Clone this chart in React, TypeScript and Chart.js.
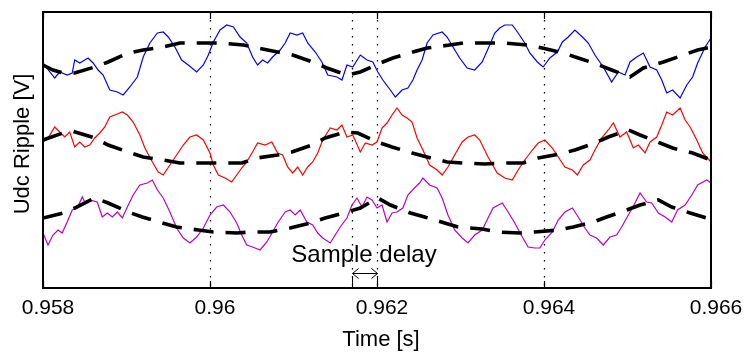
import React, { useEffect, useRef } from "react";
import { Chart, registerables } from "chart.js";

Chart.register(...registerables);

// ---- Data (time in seconds, ripple in arbitrary units) ----
const timeTicks = [0.958, 0.96, 0.962, 0.964, 0.966];
const markerTimes = [0.96, 0.9617, 0.962, 0.964];
const delayStart = 0.9617;
const delayEnd = 0.962;

const blueT = [0.958,0.95814,0.9582,0.95829,0.95835,0.95838,0.95844,0.95854,0.9586,0.95866,0.95872,0.9588,0.95889,0.95896,0.95904,0.95913,0.9592,0.95928,0.95937,0.95944,0.9595,0.95958,0.95966,0.95974,0.95984,0.95992,0.95998,0.96004,0.96012,0.9602,0.96028,0.96036,0.96044,0.96051,0.96057,0.96063,0.96069,0.96075,0.96084,0.9609,0.96096,0.96104,0.96111,0.96117,0.96126,0.96134,0.96141,0.96152,0.96158,0.96164,0.96171,0.9618,0.96188,0.96195,0.96201,0.96207,0.96216,0.96222,0.9623,0.96237,0.96243,0.96248,0.96254,0.9626,0.96267,0.96278,0.96284,0.96291,0.96299,0.96308,0.96317,0.96326,0.96335,0.96341,0.96347,0.96353,0.96362,0.96369,0.96377,0.96383,0.96392,0.96399,0.96407,0.96416,0.96422,0.96429,0.96437,0.96446,0.96453,0.96461,0.96471,0.96481,0.96489,0.96497,0.96503,0.96511,0.96519,0.96527,0.96535,0.96541,0.96547,0.96554,0.96563,0.96571,0.96578,0.96584,0.96593,0.966];
const blueV = [225,210,216,213,215,228,225,230,225,218,213,198,196,193,201,211,231,245,255,256,251,241,228,223,216,223,233,246,258,263,261,251,245,231,223,228,225,231,238,245,255,253,255,245,236,226,213,211,208,223,221,233,228,226,216,208,198,191,198,200,208,218,228,245,253,256,251,241,230,220,218,226,243,255,260,263,263,255,245,235,226,221,230,236,246,251,258,251,245,233,221,206,216,213,226,231,235,221,218,208,195,198,190,203,211,225,241,250];

const redT = [0.958,0.95806,0.95814,0.9582,0.95826,0.95832,0.95838,0.95844,0.9585,0.95856,0.95862,0.95868,0.95874,0.9588,0.95886,0.95895,0.95901,0.95908,0.95916,0.95922,0.95931,0.95938,0.95944,0.95952,0.9596,0.95968,0.95976,0.95984,0.95992,0.96,0.96004,0.9601,0.96018,0.96026,0.96032,0.96038,0.96044,0.96051,0.96057,0.96066,0.96074,0.96081,0.96087,0.96093,0.96099,0.96105,0.96111,0.96117,0.96123,0.96129,0.96135,0.96144,0.96152,0.96158,0.96164,0.96171,0.9618,0.96186,0.96194,0.962,0.96206,0.96212,0.96218,0.96224,0.9623,0.96236,0.96242,0.96248,0.96255,0.96263,0.96272,0.96278,0.96285,0.96293,0.96302,0.96309,0.96317,0.96323,0.96333,0.96344,0.96353,0.96362,0.96369,0.96377,0.96386,0.96393,0.96401,0.9641,0.96417,0.96425,0.96434,0.9644,0.96447,0.96455,0.96461,0.96469,0.96477,0.96483,0.96491,0.96499,0.96507,0.96513,0.96521,0.96527,0.96535,0.96541,0.96547,0.96554,0.96563,0.96569,0.96575,0.96583,0.9659,0.966];
const redV = [146,150,161,156,151,156,141,146,141,143,150,155,161,171,173,176,173,166,153,140,126,116,113,123,133,143,151,153,148,135,123,113,110,106,113,120,126,136,145,143,146,135,133,121,115,121,113,121,126,135,148,160,158,163,151,153,136,145,143,146,160,165,173,180,173,170,166,150,138,123,118,113,121,133,146,151,153,148,131,115,110,108,118,128,138,145,148,140,131,121,118,113,123,128,138,150,158,165,151,156,140,143,135,146,151,163,176,173,180,168,161,148,135,126];

const magT = [0.958,0.95806,0.95812,0.95818,0.95823,0.95829,0.95835,0.95841,0.95847,0.9585,0.95856,0.95865,0.95871,0.95877,0.95883,0.95889,0.95895,0.95901,0.95908,0.95916,0.95925,0.95931,0.95937,0.95944,0.95952,0.9596,0.95968,0.95976,0.95984,0.95992,0.96,0.96008,0.96016,0.96024,0.96032,0.96038,0.96044,0.96051,0.9606,0.96068,0.96075,0.96081,0.9609,0.96096,0.96102,0.96108,0.96116,0.96123,0.96129,0.96135,0.96144,0.9615,0.96156,0.96164,0.9617,0.96176,0.96182,0.96188,0.96194,0.962,0.96206,0.96212,0.96218,0.96224,0.96231,0.96237,0.96246,0.96251,0.96255,0.96263,0.96272,0.96278,0.96285,0.96293,0.96302,0.96309,0.96317,0.96326,0.96333,0.96339,0.9635,0.96357,0.96365,0.96374,0.96381,0.96389,0.96395,0.96401,0.9641,0.96417,0.96425,0.96434,0.96441,0.96449,0.96455,0.96463,0.96471,0.96479,0.96487,0.96493,0.96501,0.96509,0.96515,0.96523,0.96529,0.96537,0.96545,0.96553,0.9656,0.96569,0.96577,0.96584,0.96595,0.966];
const magV = [55,43,53,58,55,66,78,80,91,86,88,86,71,75,71,76,70,81,93,103,105,108,98,90,76,60,50,45,51,60,73,81,83,76,65,53,43,41,38,46,56,65,76,78,73,78,66,63,55,50,45,53,61,70,83,90,81,91,88,80,83,66,75,76,80,93,101,105,110,103,100,90,73,58,50,45,53,58,70,80,85,76,65,51,41,40,40,48,56,68,76,80,71,60,53,50,43,51,53,61,73,85,95,86,85,75,71,66,78,83,93,103,108,105];

const blueRefT = [0.958,0.95812,0.95824,0.95838,0.95862,0.95878,0.95902,0.9592,0.95944,0.95964,0.95992,0.9601,0.9604,0.96057,0.96081,0.96099,0.96123,0.9614,0.96164,0.9618,0.96204,0.96219,0.96243,0.9626,0.96287,0.96303,0.96335,0.96353,0.9638,0.96398,0.96423,0.96441,0.96463,0.96481,0.96503,0.96519,0.96543,0.9656,0.96584,0.966];
const blueRefV = [223,218,215,215,221,226,235,238,241,245,245,245,243,240,236,233,226,220,213,216,225,230,236,240,243,245,245,245,243,240,235,230,224,218,211,220,226,231,238,241];

const redRefT = [0.958,0.95824,0.95835,0.95862,0.95878,0.95902,0.9592,0.95944,0.95964,0.95992,0.9601,0.96038,0.96056,0.96081,0.96098,0.96122,0.96138,0.96162,0.96177,0.962,0.96218,0.96242,0.9626,0.96284,0.96303,0.96329,0.9635,0.96375,0.96393,0.96419,0.96437,0.96461,0.96477,0.96501,0.96515,0.96539,0.96554,0.96578,0.966];
const redRefV = [148,155,157,150,143,136,131,128,125,125,125,125,130,133,136,143,150,156,155,146,141,135,131,126,125,124,125,125,130,134,138,145,151,158,153,145,140,135,128];

const magRefT = [0.958,0.95824,0.95838,0.95862,0.95878,0.95902,0.95919,0.95943,0.9596,0.95986,0.96004,0.96032,0.9605,0.96072,0.96096,0.9612,0.96138,0.96164,0.9618,0.96201,0.96216,0.9624,0.96257,0.96281,0.96297,0.96326,0.96344,0.96371,0.96389,0.96417,0.96435,0.96459,0.96475,0.96499,0.96515,0.96537,0.96553,0.96575,0.96595,0.966];
const magRefV = [70,75,80,90,85,76,71,65,61,58,56,55,56,56,60,65,70,76,80,90,83,75,71,65,61,59,56,55,56,58,61,66,71,78,83,88,81,75,70,69];

const yMin = 0;
const yMax = 276;

const FONT = "'Liberation Sans', Arial, Helvetica, sans-serif";

function zip(t: number[], v: number[]) {
  const n = Math.min(t.length, v.length);
  const out: { x: number; y: number }[] = [];
  for (let i = 0; i < n; i++) out.push({ x: t[i], y: v[i] });
  return out;
}

const decorPlugin = {
  id: "decor",
  beforeDatasetsDraw(chart: any) {
    const { ctx, chartArea } = chart;
    const xs = chart.scales.x;
    ctx.save();
    ctx.strokeStyle = "#000";
    ctx.lineWidth = 1.3;
    ctx.setLineDash([1.6, 6.4]);
    for (const t of markerTimes) {
      const px = Math.round(xs.getPixelForValue(t)) + 0.5;
      ctx.beginPath();
      ctx.moveTo(px, chartArea.top);
      ctx.lineTo(px, chartArea.bottom);
      ctx.stroke();
    }
    ctx.restore();
  },
  afterDraw(chart: any) {
    const { ctx, chartArea } = chart;
    const xs = chart.scales.x;
    const { left, right, top, bottom } = chartArea;
    ctx.save();
    // frame
    ctx.setLineDash([]);
    ctx.strokeStyle = "#000";
    ctx.lineWidth = 2;
    ctx.strokeRect(left, top, right - left, bottom - top);
    // inward ticks
    ctx.lineWidth = 1.2;
    for (const t of timeTicks) {
      const px = Math.round(xs.getPixelForValue(t)) + 0.5;
      ctx.beginPath();
      ctx.moveTo(px, bottom);
      ctx.lineTo(px, bottom - 7);
      ctx.moveTo(px, top);
      ctx.lineTo(px, top + 7);
      ctx.stroke();
    }
    // sample delay annotation
    const x1 = Math.round(xs.getPixelForValue(delayStart)) + 0.5;
    const x2 = Math.round(xs.getPixelForValue(delayEnd)) + 0.5;
    const ay = 273.5;
    ctx.lineWidth = 1;
    ctx.beginPath();
    ctx.moveTo(x1, bottom);
    ctx.lineTo(x1, bottom - 11);
    ctx.moveTo(x2, bottom);
    ctx.lineTo(x2, bottom - 11);
    ctx.moveTo(x1, ay);
    ctx.lineTo(x2, ay);
    ctx.moveTo(x1 + 6, ay - 5);
    ctx.lineTo(x1, ay);
    ctx.lineTo(x1 + 6, ay + 5);
    ctx.moveTo(x2 - 6, ay - 5);
    ctx.lineTo(x2, ay);
    ctx.lineTo(x2 - 6, ay + 5);
    ctx.stroke();

    ctx.fillStyle = "#000";
    ctx.font = `24px ${FONT}`;
    ctx.textAlign = "center";
    ctx.textBaseline = "alphabetic";
    ctx.fillText("Sample delay", 364, 262);

    // axis titles
    ctx.font = `22px ${FONT}`;
    ctx.fillText("Time [s]", 381, 346);
    ctx.save();
    ctx.translate(29, 144);
    ctx.rotate(-Math.PI / 2);
    ctx.fillText("Udc Ripple [V]", 0, 0);
    ctx.restore();
    ctx.restore();
  },
};

export default function App() {
  const ref = useRef<HTMLCanvasElement | null>(null);

  useEffect(() => {
    if (!ref.current) return;
    const line = (data: any, color: string) => ({
      data,
      borderColor: color,
      borderWidth: 1.2,
      pointRadius: 0,
      tension: 0,
      fill: false,
      order: 1,
    });
    const ref_ = (data: any) => ({
      data,
      borderColor: "#000",
      borderWidth: 3.6,
      borderDash: [20, 12],
      pointRadius: 0,
      tension: 0,
      fill: false,
      order: 0,
    });
    const chart = new Chart(ref.current, {
      type: "line",
      data: {
        datasets: [
          line(zip(blueT, blueV), "#0000ff"),
          line(zip(redT, redV), "#ff0000"),
          line(zip(magT, magV), "#bf00bf"),
          ref_(zip(blueRefT, blueRefV)),
          ref_(zip(redRefT, redRefV)),
          ref_(zip(magRefT, magRefV)),
        ] as any,
      },
      options: {
        animation: false,
        responsive: false,
        devicePixelRatio: 1,
        layout: { padding: { left: 0, top: 12, right: 36, bottom: 0 } },
        plugins: { legend: { display: false }, tooltip: { enabled: false } },
        scales: {
          x: {
            type: "linear",
            min: 0.958,
            max: 0.966,
            afterFit: (s: any) => {
              s.height = 64;
            },
            afterBuildTicks: (s: any) => {
              s.ticks = timeTicks.map((v) => ({ value: v }));
            },
            grid: { display: false, drawTicks: false, tickLength: 0 },
            border: { display: false },
            ticks: {
              padding: 8,
              labelOffset: 5,
              color: "#000",
              maxRotation: 0,
              autoSkip: false,
              font: { family: FONT, size: 21 },
              callback: (v: any) => String(Number(Number(v).toFixed(3))),
            },
          },
          y: {
            type: "linear",
            min: yMin,
            max: yMax,
            afterFit: (s: any) => {
              s.width = 43;
            },
            grid: { display: false, drawTicks: false },
            border: { display: false },
            ticks: { display: false },
          },
        },
      },
      plugins: [decorPlugin],
    });
    return () => chart.destroy();
  }, []);

  return (
    <div style={{ position: "absolute", left: 0, top: 0, width: 747, height: 352, background: "#fff" }}>
      <canvas ref={ref} width={747} height={352} style={{ width: 747, height: 352 }} />
    </div>
  );
}
